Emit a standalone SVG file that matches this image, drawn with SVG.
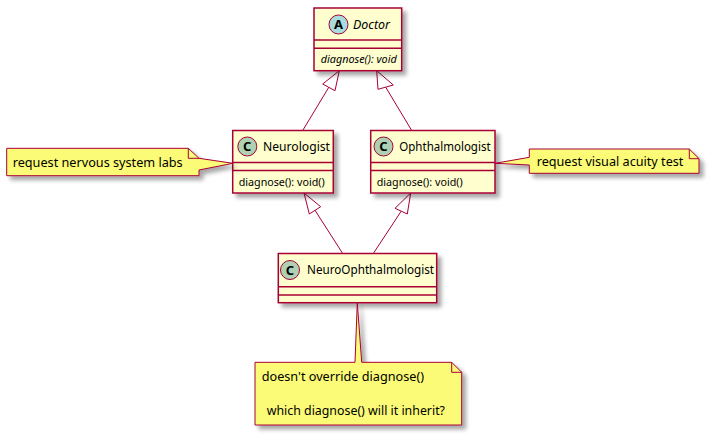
<svg xmlns="http://www.w3.org/2000/svg" width="709" height="436" viewBox="0 0 709 436">
<defs>
<filter id="sh" x="-20%" y="-20%" width="150%" height="160%">
<feGaussianBlur in="SourceAlpha" stdDeviation="2"/>
<feOffset dx="4" dy="4" result="b"/>
<feComponentTransfer><feFuncA type="linear" slope="0.35"/></feComponentTransfer>
<feMerge><feMergeNode/><feMergeNode in="SourceGraphic"/></feMerge>
</filter>
</defs>
<style>
.box{fill:#FEFECE;stroke:#A80036;stroke-width:1.5}
.sep{stroke:#A80036;stroke-width:1.5}
.note{fill:#FBFB77;stroke:#A80036;stroke-width:1}
.fold{fill:none;stroke:#A80036;stroke-width:1}
.cc{fill:#ADD1B2;stroke:#A80036;stroke-width:1}
.ca{fill:#A9DCDF;stroke:#A80036;stroke-width:1}
.ltr{font-family:"Noto Sans","DejaVu Sans",sans-serif;font-size:13px;font-weight:bold;fill:#000;text-anchor:middle}
.name{font-family:"Noto Sans","DejaVu Sans",sans-serif;font-size:11.8px;fill:#000}
.meth{font-family:"Noto Sans","DejaVu Sans",sans-serif;font-size:10.2px;fill:#000}
.nt{font-family:"Noto Sans","DejaVu Sans",sans-serif;font-size:12.6px;fill:#000}
.edge{fill:none;stroke:#A80036;stroke-width:1}
</style>
<rect width="709" height="436" fill="#FFFFFF"/>

<g id="connectors">
<path class="edge" d="M328.8,87.3 L302.7,130.5"/>
<polygon class="edge" points="339.3,70.7 322.7,84 335,90.7"/>
<path class="edge" d="M385.7,87.2 L411.7,130.5"/>
<polygon class="edge" points="376.7,70.7 378,89.3 393.3,85"/>
<path class="edge" d="M315,210.3 L342.7,253.5"/>
<polygon class="edge" points="304,193 309.3,214 320.7,206.7"/>
<path class="edge" d="M401.2,211.2 L373.3,253.5"/>
<polygon class="edge" points="410.7,193 395,208.3 407.3,214"/>
</g>

<g id="Doctor">
<rect class="box" x="314" y="8" width="87.7" height="62.7" filter="url(#sh)"/>
<line class="sep" x1="314" y1="40" x2="401.7" y2="40"/>
<line class="sep" x1="314" y1="48.3" x2="401.7" y2="48.3"/>
<circle class="ca" cx="338.5" cy="24.5" r="9.5"/>
<text class="ltr" x="338.5" y="29">A</text>
<text class="name" x="353" y="28.8" font-style="italic" textLength="37" lengthAdjust="spacingAndGlyphs">Doctor</text>
<text class="meth" x="320.7" y="63" font-style="italic" textLength="76" lengthAdjust="spacingAndGlyphs">diagnose(): void</text>
</g>

<g id="Neurologist">
<rect class="box" x="232.7" y="130.5" width="100.6" height="62.5" filter="url(#sh)"/>
<line class="sep" x1="232.7" y1="162.5" x2="333.3" y2="162.5"/>
<line class="sep" x1="232.7" y1="170.5" x2="333.3" y2="170.5"/>
<circle class="cc" cx="247.3" cy="146.5" r="9.5"/>
<text class="ltr" x="247.3" y="151">C</text>
<text class="name" x="263" y="150.8" textLength="67" lengthAdjust="spacingAndGlyphs">Neurologist</text>
<text class="meth" x="238.7" y="185.5" textLength="86" lengthAdjust="spacingAndGlyphs">diagnose(): void()</text>
</g>

<g id="Ophthalmologist">
<rect class="box" x="370.7" y="130.5" width="124.3" height="62.5" filter="url(#sh)"/>
<line class="sep" x1="370.7" y1="162.5" x2="495" y2="162.5"/>
<line class="sep" x1="370.7" y1="170.5" x2="495" y2="170.5"/>
<circle class="cc" cx="383.5" cy="146.5" r="9.5"/>
<text class="ltr" x="383.5" y="151">C</text>
<text class="name" x="399.3" y="150.8" textLength="91.3" lengthAdjust="spacingAndGlyphs">Ophthalmologist</text>
<text class="meth" x="376.7" y="185.5" textLength="86" lengthAdjust="spacingAndGlyphs">diagnose(): void()</text>
</g>

<g id="NeuroOphthalmologist">
<rect class="box" x="278.3" y="253.5" width="158.4" height="49.2" filter="url(#sh)"/>
<line class="sep" x1="278.3" y1="286.7" x2="436.7" y2="286.7"/>
<line class="sep" x1="278.3" y1="295" x2="436.7" y2="295"/>
<circle class="cc" cx="290" cy="270" r="9.5"/>
<text class="ltr" x="290" y="274.5">C</text>
<text class="name" x="307" y="274.3" textLength="127" lengthAdjust="spacingAndGlyphs">NeuroOphthalmologist</text>
</g>

<g id="note-neurologist">
<path class="note" d="M6.7,148.3 L188.3,148.3 L199,158.3 L233,163.3 L199,170 L199,175.7 L6.7,175.7 Z" filter="url(#sh)"/>
<path class="fold" d="M188.3,148.3 L188.3,158.3 L199,158.3"/>
<text class="nt" x="12.7" y="166.5" textLength="170" lengthAdjust="spacingAndGlyphs">request nervous system labs</text>
</g>

<g id="note-ophthalmologist">
<path class="note" d="M529.3,149 L689.3,149 L699,158.7 L699,173.3 L529.3,173.3 L529.3,165 L495,163.3 L529.3,157.3 Z" filter="url(#sh)"/>
<path class="fold" d="M689.3,149 L689.3,158.7 L699,158.7"/>
<text class="nt" x="536.7" y="165.8" textLength="146.7" lengthAdjust="spacingAndGlyphs">request visual acuity test</text>
</g>

<g id="note-neuroophthalmologist">
<path class="note" d="M255,362.3 L355,362.3 L357.3,302.7 L361.7,362.3 L451.7,362.3 L461.7,372.3 L461.7,425 L255,425 Z" filter="url(#sh)"/>
<path class="fold" d="M451.7,362.3 L451.7,372.3 L461.7,372.3"/>
<text class="nt" x="261.7" y="380.7" textLength="162.3" lengthAdjust="spacingAndGlyphs">doesn't override diagnose()</text>
<text class="nt" x="266.7" y="415" textLength="178.3" lengthAdjust="spacingAndGlyphs">which diagnose() will it inherit?</text>
</g>
</svg>
